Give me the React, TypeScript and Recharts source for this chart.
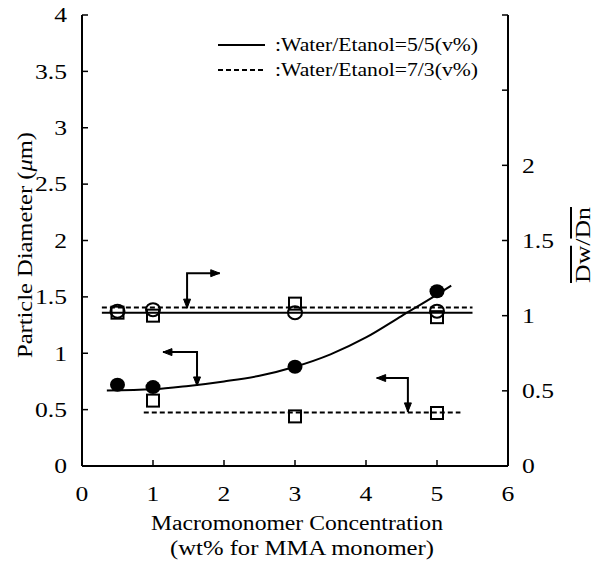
import React from "react";
import {
  ComposedChart,
  Line,
  Scatter,
  XAxis,
  YAxis,
  Customized,
} from "recharts";

// x: macromonomer concentration (wt%)
const xTicks = [0, 1, 2, 3, 4, 5, 6];
const leftTicks = [0, 0.5, 1, 1.5, 2, 2.5, 3, 3.5, 4];
const rightTicks = [0, 0.5, 1, 1.5, 2, 2.5, 3];
const rightLabelled = [0, 0.5, 1, 1.5, 2];

// particle diameter (um), left axis
const diameter55 = [
  { x: 0.5, y: 0.72 },
  { x: 1, y: 0.7 },
  { x: 3, y: 0.88 },
  { x: 5, y: 1.55 },
];
const diameterFit55 = [
  { x: 0.35, y: 0.67 },
  { x: 1, y: 0.68 },
  { x: 1.5, y: 0.71 },
  { x: 2, y: 0.75 },
  { x: 2.5, y: 0.8 },
  { x: 3, y: 0.88 },
  { x: 3.5, y: 0.99 },
  { x: 4, y: 1.14 },
  { x: 4.5, y: 1.33 },
  { x: 5, y: 1.52 },
  { x: 5.2, y: 1.6 },
];
const diameter73 = [
  { x: 1, y: 0.58 },
  { x: 3, y: 0.44 },
  { x: 5, y: 0.47 },
];
const diameterMean73 = [
  { x: 0.87, y: 0.475 },
  { x: 5.33, y: 0.475 },
];

// Dw/Dn, right axis
const dwdn55 = [
  { x: 0.5, y: 1.03 },
  { x: 1, y: 1.04 },
  { x: 3, y: 1.02 },
  { x: 5, y: 1.03 },
];
const dwdn73 = [
  { x: 0.5, y: 1.02 },
  { x: 1, y: 1.0 },
  { x: 3, y: 1.08 },
  { x: 5, y: 0.99 },
];
const dwdnMean55 = [
  { x: 0.28, y: 1.02 },
  { x: 5.5, y: 1.02 },
];
const dwdnMean73 = [
  { x: 0.28, y: 1.055 },
  { x: 5.5, y: 1.055 },
];

// pointer arrows (left axis units)
const arrowToRight = [
  { x: 1.48, y: 1.4 },
  { x: 1.48, y: 1.71 },
  { x: 1.94, y: 1.71 },
];
const arrowCurve = [
  { x: 1.14, y: 1.01 },
  { x: 1.62, y: 1.01 },
  { x: 1.62, y: 0.71 },
];
const arrowDashed = [
  { x: 4.15, y: 0.78 },
  { x: 4.59, y: 0.78 },
  { x: 4.59, y: 0.48 },
];

const FONT = "'Liberation Serif', 'Times New Roman', serif";
const STRETCH = 1.22;
const TICK_SIZE = 21;

const fmt = (v: number) => String(v);

const LeftTick = (props: any) => {
  const { x, y, payload } = props;
  return (
    <text
      transform={`translate(${x},${y}) scale(${STRETCH},1)`}
      textAnchor="end"
      dy="0.35em"
      fontSize={TICK_SIZE}
      fontFamily={FONT}
      fill="#000"
    >
      {fmt(payload.value)}
    </text>
  );
};

const RightTick = (props: any) => {
  const { x, y, payload } = props;
  if (!rightLabelled.includes(payload.value)) return <g />;
  return (
    <text
      transform={`translate(${x},${y}) scale(${STRETCH},1)`}
      textAnchor="start"
      dy="0.35em"
      fontSize={TICK_SIZE}
      fontFamily={FONT}
      fill="#000"
    >
      {fmt(payload.value)}
    </text>
  );
};

const BottomTick = (props: any) => {
  const { x, y, payload } = props;
  return (
    <text
      transform={`translate(${x},${y}) scale(${STRETCH},1)`}
      textAnchor="middle"
      dy="0.35em"
      fontSize={TICK_SIZE}
      fontFamily={FONT}
      fill="#000"
    >
      {fmt(payload.value)}
    </text>
  );
};

const filledCircle = (p: any) => (
  <ellipse cx={p.cx} cy={p.cy} rx={7.5} ry={7} fill="#000" />
);
const openCircle = (p: any) => (
  <ellipse cx={p.cx} cy={p.cy} rx={7} ry={6.5} fill="none" stroke="#000" strokeWidth={2} />
);
const openSquare = (p: any) => (
  <rect x={p.cx - 6} y={p.cy - 6} width={12} height={12} fill="none" stroke="#000" strokeWidth={2} />
);

// arrowhead at both ends of a pointer polyline
const arrowDot = (pts: { x: number; y: number }[]) => (p: any) => {
  const { cx, cy, index } = p;
  const last = pts.length - 1;
  if (index !== 0 && index !== last) return <g key={`a${index}`} />;
  const from = index === 0 ? pts[1] : pts[last - 1];
  const to = pts[index];
  const dx = Math.sign(to.x - from.x);
  const dy = -Math.sign(to.y - from.y);
  const len = 9;
  const hw = 3.5;
  const bx = cx - dx * len;
  const by = cy - dy * len;
  const d = `M${cx},${cy} L${bx - dy * hw},${by + dx * hw} L${bx + dy * hw},${by - dx * hw} Z`;
  return <path key={`a${index}`} d={d} fill="#000" stroke="#000" strokeWidth={1} />;
};

const Annotations = () => (
  <g fontFamily={FONT} fill="#000">
    <line x1={218} y1={45} x2={265} y2={45} stroke="#000" strokeWidth={2} />
    <text x={275} y={51} fontSize={18} textLength={203} lengthAdjust="spacingAndGlyphs">
      :Water/Etanol=5/5(v%)
    </text>
    <line x1={218} y1={70} x2={265} y2={70} stroke="#000" strokeWidth={2} strokeDasharray="5 3" />
    <text x={275} y={76} fontSize={18} textLength={203} lengthAdjust="spacingAndGlyphs">
      :Water/Etanol=7/3(v%)
    </text>

    <text
      transform="translate(32,245) rotate(-90)"
      textAnchor="middle"
      fontSize={21}
      textLength={226}
      lengthAdjust="spacingAndGlyphs"
    >
      Particle Diameter (<tspan fontStyle="italic">μ</tspan>m)
    </text>

    <text
      transform="translate(590,245) rotate(-90)"
      textAnchor="middle"
      fontSize={20}
      textLength={76}
      lengthAdjust="spacingAndGlyphs"
    >
      <tspan textDecoration="overline">Dw</tspan>/<tspan textDecoration="overline">Dn</tspan>
    </text>

    <text x={297} y={530} textAnchor="middle" fontSize={20} textLength={292} lengthAdjust="spacingAndGlyphs">
      Macromonomer Concentration
    </text>
    <text x={302} y={555} textAnchor="middle" fontSize={20} textLength={264} lengthAdjust="spacingAndGlyphs">
      (wt% for MMA monomer)
    </text>
  </g>
);

export default function App() {
  return (
    <div style={{ position: "absolute", left: 0, top: 0, background: "#fff" }}>
      <ComposedChart
        width={599}
        height={582}
        margin={{ top: 15, right: 0, bottom: 0, left: 0 }}
      >
        <XAxis
          dataKey="x"
          type="number"
          domain={[0, 6]}
          ticks={xTicks}
          allowDataOverflow
          height={116}
          stroke="#000"
          axisLine={{ stroke: "#000", strokeWidth: 2 }}
          tickLine={{ stroke: "#000", strokeWidth: 1.5 }}
          tickSize={-6}
          tickMargin={34}
          tick={<BottomTick />}
        />
        <XAxis
          xAxisId="top"
          orientation="top"
          type="number"
          domain={[0, 6]}
          ticks={xTicks}
          height={0}
          axisLine={{ stroke: "#000", strokeWidth: 2 }}
          tickLine={{ stroke: "#000", strokeWidth: 1.5 }}
          tickSize={-6}
          tick={false}
        />
        <YAxis
          yAxisId="left"
          type="number"
          domain={[0, 4]}
          ticks={leftTicks}
          allowDataOverflow
          width={82}
          axisLine={{ stroke: "#000", strokeWidth: 2 }}
          tickLine={{ stroke: "#000", strokeWidth: 1.5 }}
          tickSize={-6}
          tickMargin={21}
          tick={<LeftTick />}
        />
        <YAxis
          yAxisId="right"
          orientation="right"
          type="number"
          domain={[0, 3]}
          ticks={rightTicks}
          allowDataOverflow
          width={91}
          axisLine={{ stroke: "#000", strokeWidth: 2 }}
          tickLine={{ stroke: "#000", strokeWidth: 1.5 }}
          tickSize={-6}
          tickMargin={20}
          tick={<RightTick />}
        />

        <Line
          yAxisId="right"
          data={dwdnMean55}
          dataKey="y"
          type="linear"
          stroke="#000"
          strokeWidth={2}
          dot={false}
          isAnimationActive={false}
        />
        <Line
          yAxisId="right"
          data={dwdnMean73}
          dataKey="y"
          type="linear"
          stroke="#000"
          strokeWidth={2}
          strokeDasharray="5 3"
          dot={false}
          isAnimationActive={false}
        />
        <Line
          yAxisId="left"
          data={diameterFit55}
          dataKey="y"
          type="monotone"
          stroke="#000"
          strokeWidth={2}
          dot={false}
          isAnimationActive={false}
        />
        <Line
          yAxisId="left"
          data={diameterMean73}
          dataKey="y"
          type="linear"
          stroke="#000"
          strokeWidth={2}
          strokeDasharray="5 3"
          dot={false}
          isAnimationActive={false}
        />

        {[arrowToRight, arrowCurve, arrowDashed].map((pts, i) => (
          <Line
            key={`arrow${i}`}
            yAxisId="left"
            data={pts}
            dataKey="y"
            type="linear"
            stroke="#000"
            strokeWidth={2}
            dot={arrowDot(pts)}
            isAnimationActive={false}
          />
        ))}

        <Scatter yAxisId="right" data={dwdn55} dataKey="y" shape={openCircle} isAnimationActive={false} />
        <Scatter yAxisId="right" data={dwdn73} dataKey="y" shape={openSquare} isAnimationActive={false} />
        <Scatter yAxisId="left" data={diameter55} dataKey="y" shape={filledCircle} isAnimationActive={false} />
        <Scatter yAxisId="left" data={diameter73} dataKey="y" shape={openSquare} isAnimationActive={false} />

        <Customized component={Annotations} />
      </ComposedChart>
    </div>
  );
}
